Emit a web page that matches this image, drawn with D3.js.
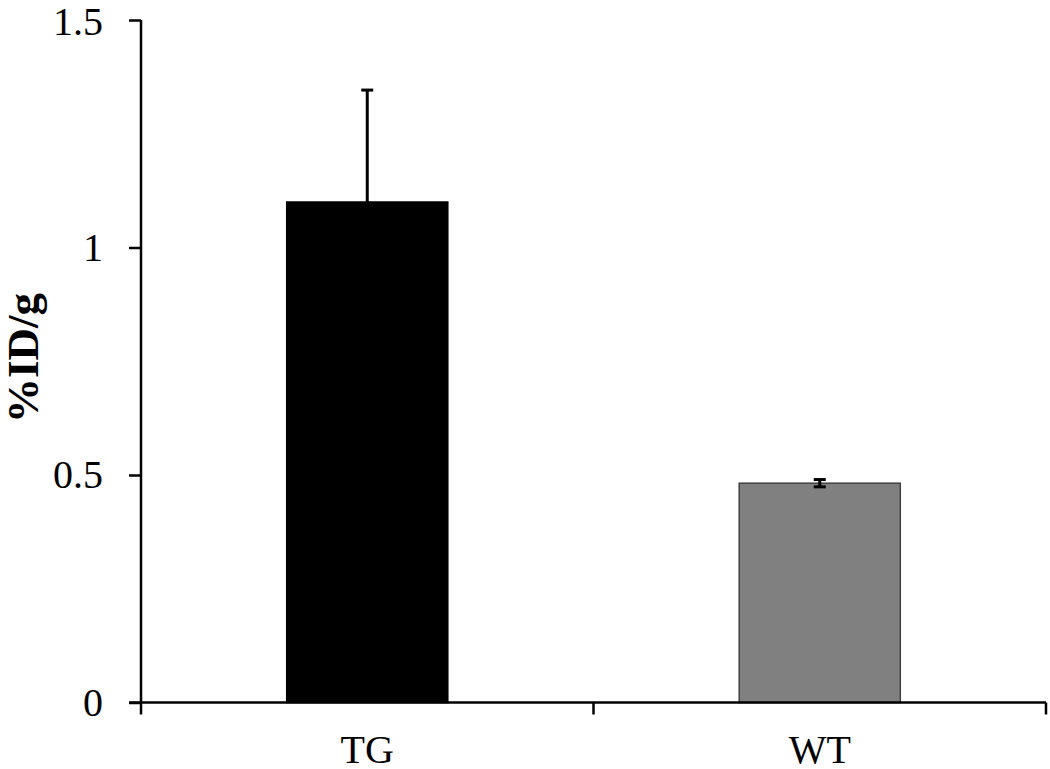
<!DOCTYPE html>
<html>
<head>
<meta charset="utf-8">
<script src="https://cdn.jsdelivr.net/npm/d3@7"></script>
<style>
  html, body { margin: 0; padding: 0; background: #fff; }
  svg { display: block; }
</style>
</head>
<body>
<svg id="chart" width="1050" height="769"></svg>
<script>
const categories = ["TG", "WT"];
const values = [1.10, 0.482];
const errors = [0.246, 0.008];
const colors = ["#000000", "#808080"];
const strokes = ["#000000", "#404040"];
const yTicks = [0, 0.5, 1, 1.5];
const yTickLabels = ["0", "0.5", "1", "1.5"];
const yTitle = "%ID/g";

(function () {
const svg = d3.select("#chart");
const mLeft = 141, mRight = 1046, mTop = 20, mBottom = 702.5;

const x = d3.scaleBand().domain(categories).range([mLeft, mRight]).paddingInner(0.644).paddingOuter(0.322);
const y = d3.scaleLinear().domain([0, 1.5]).range([mBottom, mTop]);

const font = "'Liberation Serif', 'Times New Roman', serif";

// bars
svg.selectAll("rect.bar").data(categories).enter().append("rect")
  .attr("class", "bar")
  .attr("x", d => x(d))
  .attr("width", x.bandwidth())
  .attr("y", (d, i) => y(values[i]))
  .attr("height", (d, i) => y(0) - y(values[i]))
  .attr("fill", (d, i) => colors[i])
  .attr("stroke", (d, i) => strokes[i])
  .attr("stroke-width", 1.5);

// error bars
const eg = svg.selectAll("g.err").data(categories).enter().append("g").attr("class", "err");
eg.append("line")
  .attr("x1", d => x(d) + x.bandwidth() / 2)
  .attr("x2", d => x(d) + x.bandwidth() / 2)
  .attr("y1", (d, i) => i === 0 ? y(values[i]) : y(values[i] - errors[i]))
  .attr("y2", (d, i) => y(values[i] + errors[i]))
  .attr("stroke", "#000").attr("stroke-width", 3);
eg.append("line")
  .attr("x1", d => x(d) + x.bandwidth() / 2 - 6)
  .attr("x2", d => x(d) + x.bandwidth() / 2 + 6)
  .attr("y1", (d, i) => y(values[i] + errors[i]))
  .attr("y2", (d, i) => y(values[i] + errors[i]))
  .attr("stroke", "#000").attr("stroke-width", 3);
eg.filter((d, i) => i === 1).append("line")
  .attr("x1", d => x(d) + x.bandwidth() / 2 - 6)
  .attr("x2", d => x(d) + x.bandwidth() / 2 + 6)
  .attr("y1", d => y(values[1] - errors[1]))
  .attr("y2", d => y(values[1] - errors[1]))
  .attr("stroke", "#000").attr("stroke-width", 3);

// y axis
const yAxis = d3.axisLeft(y).tickValues(yTicks)
  .tickFormat((d, i) => yTickLabels[i]).tickSize(12).tickPadding(26);
const gy = svg.append("g").attr("transform", `translate(${mLeft},0)`).call(yAxis);
gy.select(".domain").attr("stroke", "#000").attr("stroke-width", 2.5).attr("d", `M0,${mTop}V${mBottom}`);
gy.selectAll(".tick line").attr("stroke", "#000").attr("stroke-width", 2.5);
gy.selectAll(".tick text").attr("font-family", font).attr("font-size", 40).attr("fill", "#000");
gy.selectAll(".tick text").filter(d => d === 1.5).attr("dy", "0.36em");

// x axis
const xAxis = d3.axisBottom(x).tickSize(0).tickPadding(32);
const gx = svg.append("g").attr("transform", `translate(0,${mBottom})`).call(xAxis);
gx.select(".domain").attr("stroke", "#000").attr("stroke-width", 2.5).attr("d", `M${mLeft - 12},0H${mRight}`);
gx.selectAll(".tick text").attr("font-family", font).attr("font-size", 40).attr("fill", "#000");
const bounds = [mLeft, mLeft + (mRight - mLeft) / 2, mRight];
gx.selectAll("line.bt").data(bounds).enter().append("line")
  .attr("class", "bt")
  .attr("x1", d => d).attr("x2", d => d)
  .attr("y1", 0).attr("y2", 12)
  .attr("stroke", "#000").attr("stroke-width", 2.5);

// y title
svg.append("text")
  .attr("transform", `translate(38,358) rotate(-90)`)
  .attr("text-anchor", "middle")
  .attr("font-family", font).attr("font-weight", "bold").attr("font-size", 45)
  .attr("fill", "#000")
  .text(yTitle);
})();
</script>
</body>
</html>
